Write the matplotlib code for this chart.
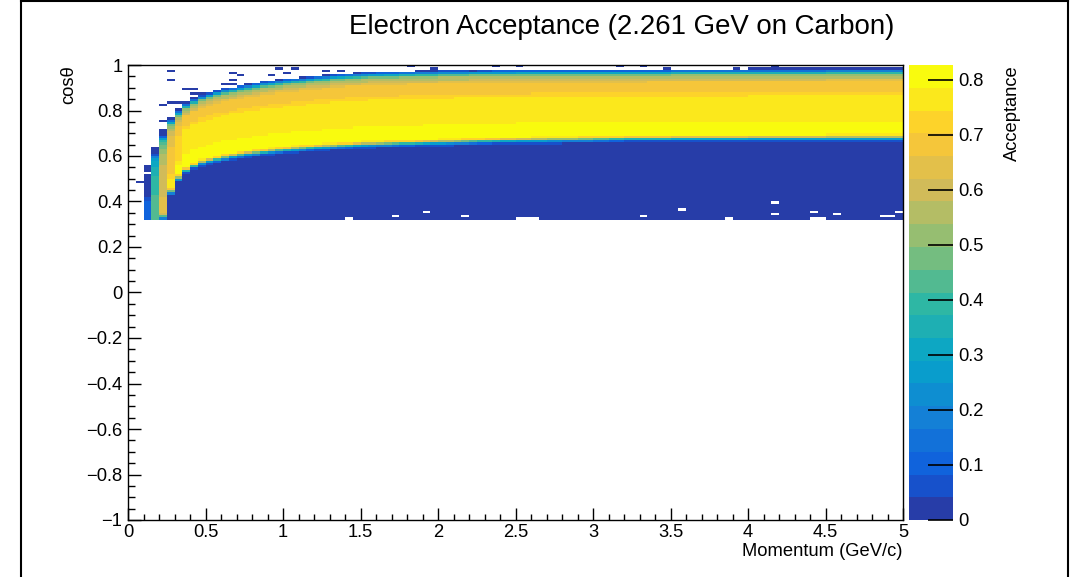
import numpy as np
import matplotlib
matplotlib.use("Agg")
import matplotlib.pyplot as plt
from matplotlib.colors import LinearSegmentedColormap, ListedColormap, BoundaryNorm
from matplotlib.ticker import MultipleLocator, FuncFormatter
from matplotlib.lines import Line2D

plt.rcParams["font.family"] = ["Liberation Sans", "DejaVu Sans"]

nan = np.nan

# binning: 100 momentum bins (0-5 GeV/c), 200 cos(theta) bins (-1..1)
P_EDGES = np.linspace(0.0, 5.0, 101)
COS_EDGES = np.linspace(-1.0, 1.0, 201)
COS_MIN = 0.32       # nothing recorded below this cos(theta)
ZMAX = 0.827         # top of the z scale

# per momentum bin: lower / upper edge of the accepted band, top of filled cells
LO = ([nan, nan, 0.20, 0.15, 0.33, 0.44, 0.50, 0.535, 0.555, 0.570,
       0.578, 0.585, 0.592, 0.598, 0.603, 0.608, 0.612, 0.616, 0.620, 0.623,
       0.626, 0.629, 0.632, 0.635, 0.637, 0.639, 0.641, 0.643, 0.645, 0.647,
       0.649, 0.650, 0.651, 0.652, 0.653, 0.654, 0.655, 0.656, 0.657, 0.658,
       0.659, 0.660, 0.661, 0.662, 0.663, 0.664, 0.665, 0.666, 0.667, 0.667,
       0.668, 0.668, 0.669, 0.669, 0.670, 0.670, 0.671, 0.671, 0.672, 0.672,
       0.673, 0.673, 0.674, 0.674, 0.675, 0.675, 0.675, 0.676, 0.676, 0.676]
      + [0.677] * 10 + [0.678] * 10 + [0.679] * 10)

HI = ([nan, nan, 0.42, 0.60, 0.68, 0.75, 0.79, 0.82, 0.84, 0.855,
       0.866, 0.876, 0.884, 0.891, 0.897, 0.903, 0.909, 0.914, 0.919, 0.923,
       0.927, 0.930, 0.933, 0.936, 0.940, 0.943, 0.946, 0.949, 0.951, 0.953,
       0.955, 0.956, 0.957, 0.958, 0.959, 0.960, 0.961, 0.962, 0.963, 0.963,
       0.964, 0.964, 0.965, 0.965, 0.966, 0.966, 0.966, 0.967, 0.967, 0.967]
      + [0.968] * 10 + [0.969] * 10 + [0.970] * 10 + [0.971] * 10 + [0.972] * 10)

TOP = ([nan, nan, 0.565, 0.645, 0.72, 0.77, 0.815, 0.845, 0.862, 0.875,
        0.882, 0.890, 0.898, 0.905, 0.911, 0.917, 0.923, 0.928, 0.933, 0.937,
        0.941, 0.944, 0.947, 0.950, 0.954, 0.957, 0.960, 0.963, 0.965, 0.967,
        0.969, 0.970, 0.971, 0.972, 0.973, 0.974, 0.975, 0.976, 0.977, 0.977]
       + [0.978] * 10 + [0.980] * 10 + [0.982] * 10 + [0.984] * 10 + [0.986] * 20)

PEAK = [nan, nan, 0.12, 0.45, 0.65, 0.75, 0.80, 0.82] + [0.827] * 92

# shape of the band between LO and HI (fraction of peak)
PROFILE_T = [0.0, 0.20, 0.28, 0.62, 0.70, 0.84, 0.90, 1.0]
PROFILE_V = [1.0, 1.0, 0.93, 0.92, 0.84, 0.82, 0.70, 0.62]
# fall-off across the band edges (distance inside the edge)
EDGE_D = [-0.02, -0.01, 0.0, 0.01, 0.02]
EDGE_V = [0.0, 0.10, 0.45, 0.85, 1.0]

# isolated low-acceptance cells outside the band
STRAY_P = [0.075, 0.225, 0.225, 0.275, 0.275, 0.275, 0.325, 0.375, 0.425, 0.425,
           0.475, 0.625, 0.675, 0.675, 0.675, 0.725, 0.925, 0.975, 1.025, 1.075,
           1.275, 1.375, 1.825, 1.975, 1.975, 2.225, 2.375, 2.525, 3.175, 3.325,
           3.475, 3.925, 4.175, 4.775]
STRAY_COS = [0.485, 0.755, 0.825, 0.975, 0.935, 0.835, 0.835, 0.895, 0.895, 0.875,
             0.875, 0.915, 0.965, 0.935, 0.915, 0.955, 0.955, 0.985, 0.965, 0.985,
             0.975, 0.975, 0.995, 0.985, 0.975, 0.975, 0.995, 0.995, 0.995, 0.995,
             0.985, 0.985, 0.995, 0.985]

# empty cells inside the filled region
EMPTY_P = [0.125, 1.425, 1.725, 1.925, 2.175, 2.525, 2.575, 2.625, 3.325, 3.575,
           3.875, 4.175, 4.175, 4.425, 4.475, 4.425, 4.575, 4.875, 4.925, 4.975]
EMPTY_COS = [0.525, 0.325, 0.335, 0.355, 0.335, 0.325, 0.325, 0.325, 0.335, 0.365,
             0.325, 0.395, 0.345, 0.325, 0.325, 0.355, 0.345, 0.335, 0.335, 0.355]

# ROOT kBird palette
BIRD_STOPS = [0.0000, 0.1250, 0.2500, 0.3750, 0.5000, 0.6250, 0.7500, 0.8750, 1.0000]
BIRD_R = [0.2082, 0.0592, 0.0780, 0.0232, 0.1802, 0.5301, 0.8186, 0.9956, 0.9764]
BIRD_G = [0.1664, 0.3599, 0.5041, 0.6419, 0.7178, 0.7492, 0.7328, 0.7862, 0.9832]
BIRD_B = [0.5293, 0.8684, 0.8385, 0.7914, 0.6425, 0.4662, 0.3499, 0.1968, 0.0539]
N_LEVELS = 20


def build_map():
    p_c = 0.5 * (P_EDGES[:-1] + P_EDGES[1:])
    c = 0.5 * (COS_EDGES[:-1] + COS_EDGES[1:])
    acc = np.full((len(c), len(p_c)), np.nan)
    for j in range(len(p_c)):
        if np.isnan(TOP[j]):
            continue
        t = (c - LO[j]) / (HI[j] - LO[j])
        body = np.interp(t, PROFILE_T, PROFILE_V)
        rise = np.interp(c - LO[j], EDGE_D, EDGE_V)
        fall = np.interp(HI[j] - c, EDGE_D, EDGE_V)
        col = PEAK[j] * body * rise * fall
        filled = (c > COS_MIN) & (c < TOP[j])
        acc[filled, j] = col[filled]

    def cell(p, cs):
        return int(np.floor((cs + 1.0) / 0.01 + 1e-9)), int(np.floor(p / 0.05 + 1e-9))

    for p, cs in zip(STRAY_P, STRAY_COS):
        acc[cell(p, cs)] = 0.0
    for p, cs in zip(EMPTY_P, EMPTY_COS):
        acc[cell(p, cs)] = np.nan
    return np.ma.masked_invalid(acc)


def fmt(v, _pos):
    s = "%g" % round(v, 3)
    return s.replace("-", "\u2212")


acc = build_map()

bird = LinearSegmentedColormap.from_list(
    "bird", list(zip(BIRD_STOPS, zip(BIRD_R, BIRD_G, BIRD_B))), N=255)
level_colors = [bird(int((i + 0.99) * 255 / N_LEVELS)) for i in range(N_LEVELS)]
cmap = ListedColormap(level_colors)
norm = BoundaryNorm(np.linspace(0.0, ZMAX, N_LEVELS + 1), N_LEVELS, clip=True)

LABEL_SIZE = 13.2

W, H = 1089, 577
fig = plt.figure(figsize=(W / 100, H / 100), dpi=100)
ax = fig.add_axes([128 / W, 1 - 520 / H, 775 / W, 455 / H])
cax = fig.add_axes([909 / W, 1 - 520 / H, 44 / W, 455 / H])

mesh = ax.pcolormesh(P_EDGES, COS_EDGES, acc, cmap=cmap, norm=norm, shading="flat")
ax.set_xlim(0, 5)
ax.set_ylim(-1, 1)

ax.xaxis.set_major_locator(MultipleLocator(0.5))
ax.xaxis.set_minor_locator(MultipleLocator(0.1))
ax.yaxis.set_major_locator(MultipleLocator(0.2))
ax.yaxis.set_minor_locator(MultipleLocator(0.05))
ax.xaxis.set_major_formatter(FuncFormatter(fmt))
ax.yaxis.set_major_formatter(FuncFormatter(fmt))
ax.tick_params(which="both", direction="in", top=False, right=False,
               labelsize=LABEL_SIZE, width=1.0, color="black")
ax.tick_params(axis="x", which="major", length=8.6, pad=3)
ax.tick_params(axis="x", which="minor", length=4.3)
ax.tick_params(axis="y", which="major", length=9.5, pad=4)
ax.tick_params(axis="y", which="minor", length=4.8)
for sp in ax.spines.values():
    sp.set_linewidth(1.0)

cb = fig.colorbar(mesh, cax=cax, ticks=np.arange(0.0, 0.81, 0.1))
cb.outline.set_visible(False)
cax.yaxis.set_major_formatter(FuncFormatter(fmt))
cax.tick_params(direction="in", length=18, width=1.2, labelsize=LABEL_SIZE, pad=4)
cax.minorticks_off()

fig.text(622 / W, 1 - 27 / H, "Electron Acceptance (2.261 GeV on Carbon)",
         ha="center", va="center", fontsize=19.9)
fig.text(902 / W, 1 - 551 / H, "Momentum (GeV/c)", ha="right", va="center",
         fontsize=LABEL_SIZE)
fig.text(69 / W, 1 - 65 / H, "cos\u03b8", rotation=90, ha="center", va="top",
         fontsize=LABEL_SIZE)
fig.text(1012 / W, 1 - 65 / H, "Acceptance", rotation=90, ha="center", va="top",
         fontsize=LABEL_SIZE)

# canvas border
for xs, ys in [((21 / W, 21 / W), (0, 1)), ((1068 / W, 1068 / W), (0, 1)),
               ((21 / W, 1068 / W), (1 - 1 / H, 1 - 1 / H))]:
    fig.add_artist(Line2D(xs, ys, color="black", lw=1.5, transform=fig.transFigure))

fig.savefig("out.png", dpi=100)
